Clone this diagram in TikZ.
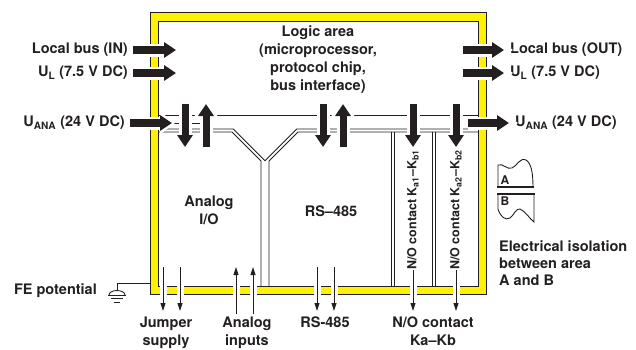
\documentclass[tikz,border=0pt]{standalone}
\usepackage{fontspec}
\setmainfont{TeX Gyre Heros}
\usetikzlibrary{arrows.meta}

\definecolor{ink}{HTML}{231F20}
\definecolor{bandyellow}{HTML}{FFF200}

\begin{document}
\begin{tikzpicture}[
    x=1pt, y=-1pt,
    font=\fontsize{14.5}{18}\selectfont\bfseries,
    lbl/.style={inner sep=0pt, align=center, text=ink},
    rotlbl/.style={lbl, rotate=90, font=\fontsize{12.5}{15}\selectfont\bfseries},
    rimline/.style={draw=ink, line width=1pt},
    busline/.style={draw=ink, line width=0.9pt},
    bigarrow/.style={draw=ink, line width=8pt, -{Triangle[width=15pt,length=12pt]},
        preaction={draw=white, line width=13pt, shorten >=-3pt, -{Triangle[width=22pt,length=15pt]}}},
    busarrow/.style={draw=ink, line width=7pt, -{Triangle[width=15pt,length=12pt]},
        preaction={draw=white, line width=13pt, shorten >=-3pt, -{Triangle[width=22pt,length=15pt]}}},
    thinarrow/.style={draw=ink, line width=0.9pt, -{Triangle[width=5pt,length=8pt]},
        preaction={draw=white, line width=7pt, arrows=-}}
]
\useasboundingbox (0,0) rectangle (636,349);

% === Yellow isolation frame ===
\fill[bandyellow, even odd rule] (150,12) rectangle (486,294) (158,21) rectangle (478,286);
\draw[rimline] (150,12) rectangle (486,294);
\draw[rimline] (158,21) rectangle (478,286);

% === Internal bus ===
\draw[busline] (158,115) -- (478,115);
\draw[busline] (158,123.5) -- (213,123.5);
\draw[busline] (158,132) -- (232,132) -- (261,161) -- (261,286);
\draw[busline] (158,129) -- (233.2,129) -- (265,160.8) -- (296.8,129) -- (478,129);
\draw[busline] (478,132) -- (298,132) -- (269,161) -- (269,286);
\draw[busline] (391,132) -- (391,286);
\draw[busline] (394.5,132) -- (394.5,286);
\draw[busline] (432,132) -- (432,286);
\draw[busline] (435.5,132) -- (435.5,286);

% === Supply and bus labels ===
\node[lbl, anchor=east] (lbin) at (128,50) {Local bus (IN)};
\node[lbl, anchor=east] (ulin) at (128,73) {U\textsubscript{L} (7.5 V DC)};
\node[lbl, anchor=east] (uain) at (125,123) {U\textsubscript{ANA} (24 V DC)};
\node[lbl, anchor=west] (lbout) at (510,50) {Local bus (OUT)};
\node[lbl, anchor=west] (ulout) at (510,73) {U\textsubscript{L} (7.5 V DC)};
\node[lbl, anchor=west] (uaout) at (515,123) {U\textsubscript{ANA} (24 V DC)};

\coordinate (lbinTip) at (176,50);
\coordinate (ulinTip) at (176,73);
\coordinate (uainTip) at (172,123);
\coordinate (lboutTail) at (463,50);
\coordinate (uloutTail) at (463,73);
\coordinate (uaoutTail) at (468,123);

\draw[bigarrow, shorten <=5pt] (lbin) -- (lbinTip);
\draw[bigarrow, shorten <=5pt] (ulin) -- (ulinTip);
\draw[bigarrow, shorten <=5pt] (uain) -- (uainTip);
\draw[bigarrow, shorten >=6pt] (lboutTail) -- (lbout);
\draw[bigarrow, shorten >=6pt] (uloutTail) -- (ulout);
\draw[bigarrow, shorten >=6pt] (uaoutTail) -- (uaout);

% === Bus taps ===
\coordinate (aioT1) at (185,104);  \coordinate (aioB1) at (185,147);
\coordinate (aioT2) at (206,104);  \coordinate (aioB2) at (206,147);
\coordinate (rsT1) at (323,104);   \coordinate (rsB1) at (323,147);
\coordinate (rsT2) at (343,104);   \coordinate (rsB2) at (343,147);
\coordinate (noT1) at (413,104);   \coordinate (noB1) at (413,147);
\coordinate (noT2) at (456,104);   \coordinate (noB2) at (456,147);

\draw[busarrow] (aioT1) -- (aioB1);
\draw[busarrow] (aioB2) -- (aioT2);
\draw[busarrow] (rsT1) -- (rsB1);
\draw[busarrow] (rsB2) -- (rsT2);
\draw[busarrow] (noT1) -- (noB1);
\draw[busarrow] (noT2) -- (noB2);

% === Area labels ===
\node[lbl] (logic) at (318,60) {Logic area\\(microprocessor,\\protocol chip,\\bus interface)};
\node[lbl] (aio) at (209,210) {Analog\\I/O};
\node[lbl] (rs) at (331,211) {RS\textendash 485};
\node[rotlbl] (noA) at (413,210) {N/O contact K\textsubscript{a1}\textendash K\textsubscript{b1}};
\node[rotlbl] (noB) at (456,210) {N/O contact K\textsubscript{a2}\textendash K\textsubscript{b2}};

% === Field side connections ===
\coordinate (js1T) at (163,267);  \coordinate (js1B) at (163,311);
\coordinate (js2T) at (180,267);  \coordinate (js2B) at (180,311);
\coordinate (ai1T) at (236,267);  \coordinate (ai1B) at (236,314);
\coordinate (ai2T) at (253,267);  \coordinate (ai2B) at (253,314);
\coordinate (rs1T) at (317,267);  \coordinate (rs1B) at (317,311);
\coordinate (rs2T) at (334,267);  \coordinate (rs2B) at (334,311);
\coordinate (noAEnd) at (413,311);
\coordinate (noBEnd) at (456,311);

\draw[thinarrow] (js1T) -- (js1B);
\draw[thinarrow] (js2T) -- (js2B);
\draw[thinarrow] (ai1B) -- (ai1T);
\draw[thinarrow] (ai2B) -- (ai2T);
\draw[thinarrow] (rs1T) -- (rs1B);
\draw[thinarrow] (rs2T) -- (rs2B);
\draw[thinarrow] (noA) -- (noAEnd);
\draw[thinarrow] (noB) -- (noBEnd);

\node[lbl, anchor=north] (jumper) at (166,317) {Jumper\\supply};
\node[lbl, anchor=north] (ain) at (247,317) {Analog\\inputs};
\node[lbl, anchor=north] (rsout) at (325,317) {RS-485};
\node[lbl, anchor=north] (noout) at (433,317) {N/O contact\\Ka\textendash Kb};

% === FE potential ===
\node[lbl, anchor=east] (fe) at (97,291) {FE potential};
\coordinate (feTap) at (150,283);
\coordinate (gnd) at (117,290.5);
\draw[busline] (feTap) -| (gnd);
\draw[busline] (109,295) arc[start angle=180, end angle=360, x radius=8, y radius=4.5];
\draw[busline] (108,295) -- (126,295);
\draw[busline] (111,298.5) -- (123,298.5);
\draw[busline] (114,302) -- (120,302);

% === Electrical isolation symbol ===
\draw[busline] (533,187) -- (498,187) -- (498,165)
    .. controls (503,163) and (507,170) .. (512,168)
    .. controls (517,166) and (520,157) .. (526,160)
    .. controls (531,163) and (533,172) .. (533,187);
\draw[busline] (498,194) -- (498,209)
    .. controls (500,216) and (505,221) .. (510,218)
    .. controls (514,215) and (516,208) .. (520,209)
    .. controls (525,211) and (530,219) .. (534,222) -- (534,194);
\draw[ink, line width=2pt] (497,187) -- (534,187);
\draw[ink, line width=2pt] (497,194) -- (535,194);
\node[lbl, font=\fontsize{12}{12}\selectfont\bfseries] (areaA) at (505,180) {A};
\node[lbl, font=\fontsize{12}{12}\selectfont\bfseries] (areaB) at (505,201) {B};
\node[lbl, align=left, anchor=north west, font=\fontsize{14.5}{17}\selectfont\bfseries] (iso) at (499,240) {Electrical isolation\\between area\\A and B};

\end{tikzpicture}
\end{document}
